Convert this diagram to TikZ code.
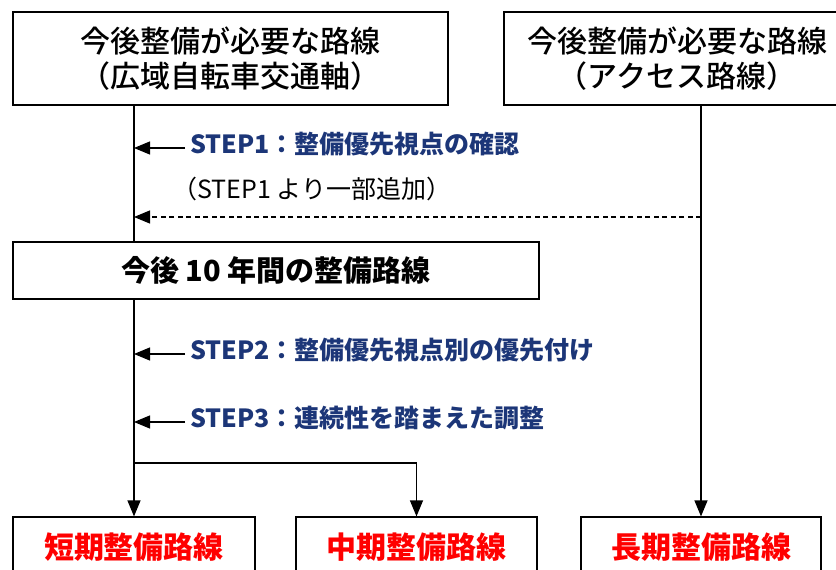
\documentclass[tikz,border=0pt]{standalone}
\usepackage{fontspec}
\setmainfont{Noto Sans CJK JP}
\newfontfamily\jpmed{Noto Sans CJK JP Medium}
\usetikzlibrary{arrows.meta}
\definecolor{navy}{RGB}{28,54,120}
\begin{document}
\begin{tikzpicture}[x=1pt,y=-1pt,
  box/.style={draw, line width=1.2pt, inner sep=0pt, align=center},
  conn/.style={line width=1.2pt},
  arr/.style={conn, -{Triangle[length=16pt,width=13pt]}},
  stepbox/.style={anchor=west, text=navy, inner sep=0pt, font=\fontsize{25}{30}\selectfont\bfseries},
  bigtxt/.style={font=\fontsize{30}{35}\selectfont\jpmed},
  redtxt/.style={text=red, font=\fontsize{30}{35}\selectfont\bfseries},
]
\useasboundingbox (0,0) rectangle (836,570);
\fill[white] (0,0) rectangle (836,570);
% boxes
\node[box, bigtxt, minimum width=435pt, minimum height=93pt] (top1) at (230.5,58.5) {今後整備が必要な路線\\（広域自転車交通軸）};
\node[box, bigtxt, minimum width=346pt, minimum height=93pt] (top2) at (677,58.5) {今後整備が必要な路線\\（アクセス路線）};
\node[box, minimum width=526pt, minimum height=57pt, font=\fontsize{29}{35}\selectfont\bfseries] (mid) at (276,270.5) {今後 10 年間の整備路線};
\node[box, redtxt, minimum width=242pt, minimum height=60pt] (bot1) at (134,547) {短期整備路線};
\node[box, redtxt, minimum width=241pt, minimum height=60pt] (bot2) at (416.5,547) {中期整備路線};
\node[box, redtxt, minimum width=240pt, minimum height=60pt] (bot3) at (701,547) {長期整備路線};
% step labels
\node[stepbox] (s1) at (190,144) {STEP1：整備優先視点の確認};
\node[anchor=west, inner sep=0pt, font=\fontsize{25}{30}\selectfont] (s1b) at (172,189) {（STEP1 より一部追加）};
\node[stepbox] (s2) at (190,350) {STEP2：整備優先視点別の優先付け};
\node[stepbox] (s3) at (190,418) {STEP3：連続性を踏まえた調整};
% connectors
\coordinate (br) at (134,463);
\coordinate (d1) at (701,217);
\draw[conn] (bot1.north |- top1.south) -- (bot1.north |- mid.north);
\draw[arr] (bot1.north |- mid.south) -- (bot1.north);
\draw[arr] (br) -| (bot2.north);
\draw[arr] (bot3.north |- top2.south) -- (bot3.north);
\draw[arr] ([xshift=-5pt,yshift=-4pt]s1.west) -- ([yshift=-4pt]s1.west -| bot1.north);
\draw[arr] ([xshift=-5pt,yshift=-4pt]s2.west) -- ([yshift=-4pt]s2.west -| bot1.north);
\draw[arr] ([xshift=-5pt,yshift=-4pt]s3.west) -- ([yshift=-4pt]s3.west -| bot1.north);
\draw[arr, dash pattern=on 5pt off 3.5pt] (d1) -- (d1 -| bot1.north);
\end{tikzpicture}
\end{document}
